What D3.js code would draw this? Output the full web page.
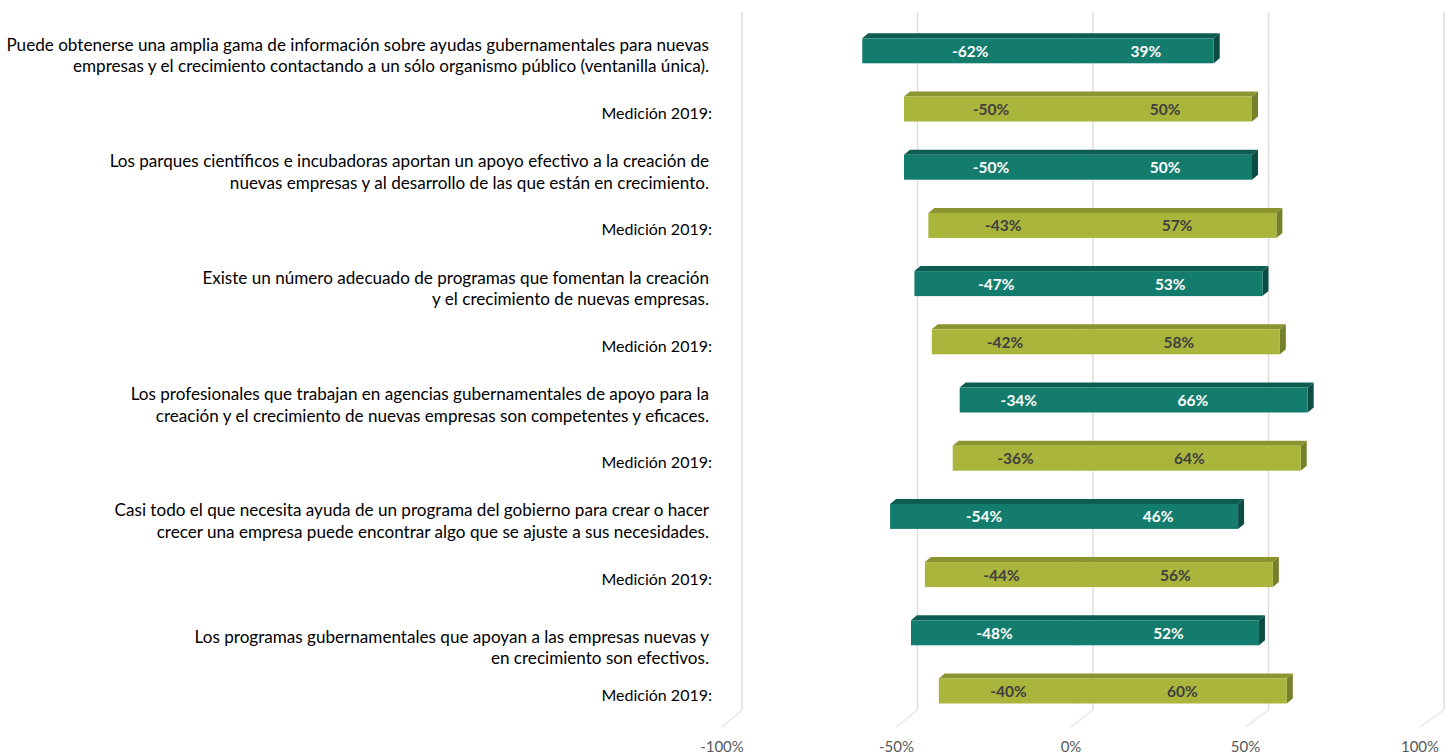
<!DOCTYPE html>
<html>
<head>
<meta charset="utf-8">
<script src="https://cdn.jsdelivr.net/npm/d3@7"></script>
<style>
  body { margin: 0; background: #fff; }
  svg { display: block; }
</style>
</head>
<body>
<script>
// afirmaciones (cada una en las lineas tal como aparecen)
const afirmaciones = [
    ["Puede obtenerse una amplia gama de información sobre ayudas gubernamentales para nuevas",
     "empresas y el crecimiento contactando a un sólo organismo público (ventanilla única)."],
    ["Los parques científicos e incubadoras aportan un apoyo efectivo a la creación de",
     "nuevas empresas y al desarrollo de las que están en crecimiento."],
    ["Existe un número adecuado de programas que fomentan la creación",
     "y el crecimiento de nuevas empresas."],
    ["Los profesionales que trabajan en agencias gubernamentales de apoyo para la",
     "creación y el crecimiento de nuevas empresas son competentes y eficaces."],
    ["Casi todo el que necesita ayuda de un programa del gobierno para crear o hacer",
     "crecer una empresa puede encontrar algo que se ajuste a sus necesidades."],
    ["Los programas gubernamentales que apoyan a las empresas nuevas y",
     "en crecimiento son efectivos."]
];
const etiqueta2019 = "Medición 2019:";

// valores medicion actual
const actualNeg = [-62, -50, -47, -34, -54, -48];
const actualPos = [39, 50, 53, 66, 46, 52];
// valores medicion 2019
const med2019Neg = [-50, -43, -42, -36, -44, -40];
const med2019Pos = [50, 57, 58, 64, 56, 60];

const ticks = [-100, -50, 0, 50, 100];

const width = 1453;
const height = 755;

const filas = [];
afirmaciones.forEach((lineas, i) => {
    filas.push({ lineas: lineas, neg: actualNeg[i], pos: actualPos[i], tipo: 'actual', idx: i });
    filas.push({ lineas: [etiqueta2019], neg: med2019Neg[i], pos: med2019Pos[i], tipo: '2019', idx: i });
});

const colores = {
    actual: { front: "#137c6d", top: "#0e5d52", side: "#0b4c43", text: "#ffffff" },
    '2019': { front: "#a9b53b", top: "#8b9530", side: "#76802a", text: "#404040" }
};

// escalas: pared del fondo, piso frontal y cara frontal de las barras
const xBack = d3.scaleLinear().domain([-100, 100]).range([742, 1444]);
const xFloor = d3.scaleLinear().domain([-100, 100]).range([722, 1420]);
const xBar = d3.scaleLinear().domain([-100, 100]).range([730, 1426]);

const y = d3.scalePoint()
    .domain(d3.range(filas.length))
    .range([50.8, 691]);

const barH = 25;
const dx = 6, dy = -5;
const backTop = 12, backBottom = 710, floorFront = 727;
const fuente = "Lato, 'Open Sans', sans-serif";

const svg = d3.select("body").append("svg")
    .attr("width", width)
    .attr("height", height);

// grilla
const grid = svg.append("g");
grid.selectAll(".grid-v")
    .data(ticks)
    .join("line")
    .attr("class", "grid-v")
    .attr("x1", d => xBack(d)).attr("x2", d => xBack(d))
    .attr("y1", backTop).attr("y2", backBottom)
    .attr("stroke", "#dedede")
    .attr("stroke-width", 1.5);

grid.selectAll(".grid-s")
    .data(ticks)
    .join("line")
    .attr("class", "grid-s")
    .attr("x1", d => xBack(d)).attr("x2", d => xFloor(d))
    .attr("y1", backBottom).attr("y2", floorFront)
    .attr("stroke", "#e6e6e6")
    .attr("stroke-width", 1.5);

svg.append("g").selectAll("text")
    .data(ticks)
    .join("text")
    .attr("x", d => xFloor(d))
    .attr("y", 752)
    .attr("text-anchor", "middle")
    .attr("fill", "#595959")
    .attr("font-family", fuente)
    .attr("font-size", 15)
    .text(d => d + "%");

// barras 3D
const barras = svg.append("g").selectAll("g")
    .data(filas)
    .join("g");

barras.each(function(d, i) {
    const g = d3.select(this);
    const c = colores[d.tipo];
    const yc = y(i);
    const yTop = yc - barH / 2;
    const yBot = yc + barH / 2;
    const x0 = xBar(d.neg);
    const xm = Math.round(xBar(0));
    const x1 = xBar(d.pos);

    g.append("polygon")
        .attr("points", [[x0, yTop], [x0 + dx, yTop + dy], [x1 + dx, yTop + dy], [x1, yTop]].join(" "))
        .attr("fill", c.top);

    g.append("polygon")
        .attr("points", [[x1, yTop], [x1 + dx, yTop + dy], [x1 + dx, yBot + dy], [x1, yBot]].join(" "))
        .attr("fill", c.side);

    // tramo negativo y positivo
    g.append("rect")
        .attr("x", x0).attr("y", yTop)
        .attr("width", xm - x0 + 0.5).attr("height", barH)
        .attr("fill", c.front);

    g.append("rect")
        .attr("x", xm).attr("y", yTop)
        .attr("width", x1 - xm).attr("height", barH)
        .attr("fill", c.front);

    g.selectAll("text")
        .data([[d.neg, (x0 + xm) / 2], [d.pos, (xm + x1) / 2]])
        .join("text")
        .attr("x", t => t[1])
        .attr("y", yc + 6)
        .attr("text-anchor", "middle")
        .attr("fill", c.text)
        .attr("font-family", fuente)
        .attr("font-weight", "bold")
        .attr("font-size", 15.5)
        .text(t => t[0] + "%");
});

// etiquetas de la izquierda
const etiquetas = svg.append("g").selectAll("text")
    .data(filas)
    .join("text")
    .attr("text-anchor", "end")
    .attr("fill", "#000")
    .attr("font-family", fuente)
    .attr("font-size", d => d.tipo === '2019' ? 16 : 17.1);

etiquetas.each(function(d, i) {
    const t = d3.select(this);
    const yc = y(i);
    if (d.tipo === '2019') {
        t.append("tspan")
            .attr("x", 712)
            .attr("y", yc + 10)
            .text(d.lineas[0]);
    } else {
        const ajuste = d.idx === afirmaciones.length - 1 ? 10 : 0;
        d.lineas.forEach((l, k) => {
            t.append("tspan")
                .attr("x", 709)
                .attr("y", yc + ajuste + k * 21.5)
                .text(l);
        });
    }
});
</script>
</body>
</html>
